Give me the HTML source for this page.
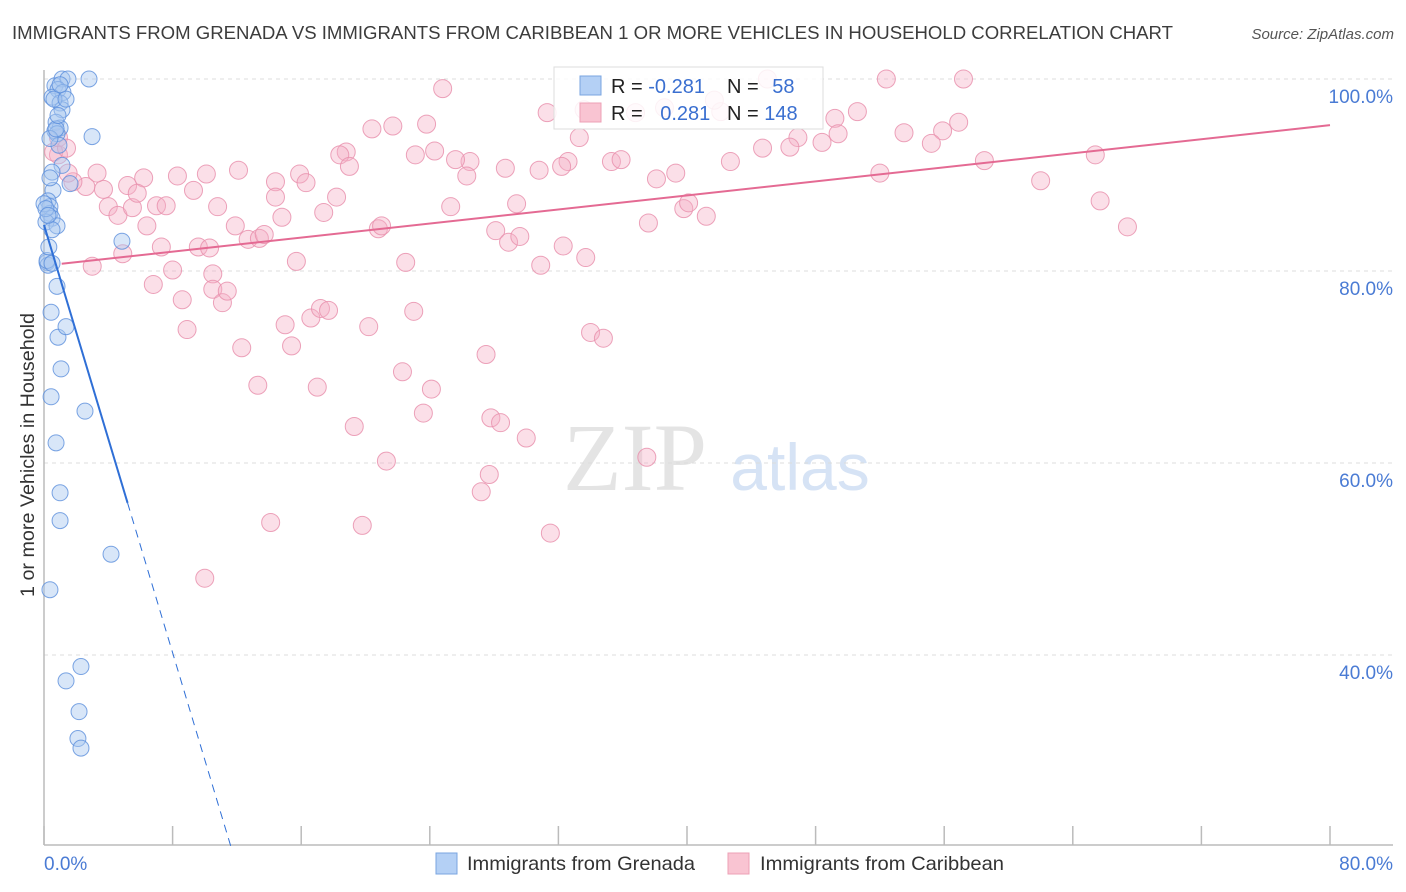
<!DOCTYPE html>
<html><head><meta charset="utf-8"><style>
body{margin:0;background:#fff;font-family:"Liberation Sans",sans-serif;}
svg{display:block}
</style></head><body>
<svg id="chart" width="1406" height="892" xmlns="http://www.w3.org/2000/svg">
<text x="12" y="39" font-size="18" fill="#3c3c3c" textLength="1161" lengthAdjust="spacingAndGlyphs">IMMIGRANTS FROM GRENADA VS IMMIGRANTS FROM CARIBBEAN 1 OR MORE VEHICLES IN HOUSEHOLD CORRELATION CHART</text>
<text x="1394" y="39" font-size="15" fill="#555" font-style="italic" text-anchor="end">Source: ZipAtlas.com</text>
<text transform="translate(34,455) rotate(-90)" font-size="19" fill="#333" text-anchor="middle" textLength="284" lengthAdjust="spacingAndGlyphs">1 or more Vehicles in Household</text>
<g>
<text x="635" y="490" font-size="96" fill="#e4e4e4" font-family="Liberation Serif,serif" text-anchor="middle">ZIP</text>
<text x="800" y="490" font-size="66" fill="#d6e3f5" text-anchor="middle">atlas</text>
</g>
<g id="grid"></g><g id="axes"></g><g id="pink"></g><g id="blue"></g><g id="trend"></g>
<g>
<rect x="554" y="67" width="269" height="62" fill="#fff" fill-opacity="0.85" stroke="#ddd"/>
<rect x="580" y="76" width="21" height="19" fill="#b4d0f5" stroke="#7aa5e0"/>
<rect x="580" y="103" width="21" height="19" fill="#f9c4d2" stroke="#eda0b6"/>
<text x="611" y="93" font-size="20" fill="#222">R = <tspan fill="#3a6fd0">-0.281</tspan></text>
<text x="727" y="93" font-size="20" fill="#222">N = <tspan fill="#3a6fd0" dx="8">58</tspan></text>
<text x="611" y="120" font-size="20" fill="#222">R = <tspan fill="#3a6fd0" dx="12">0.281</tspan></text>
<text x="727" y="120" font-size="20" fill="#222">N = <tspan fill="#3a6fd0">148</tspan></text>
</g>
<g>
<rect x="436" y="853" width="21" height="21" fill="#b4d0f5" stroke="#7aa5e0"/>
<text x="467" y="870" font-size="19.5" fill="#333" textLength="228" lengthAdjust="spacingAndGlyphs">Immigrants from Grenada</text>
<rect x="728" y="853" width="21" height="21" fill="#f9c4d2" stroke="#eda0b6"/>
<text x="760" y="870" font-size="19.5" fill="#333" textLength="244" lengthAdjust="spacingAndGlyphs">Immigrants from Caribbean</text>
</g>
</svg>
<script>
const blueX=[0.68,1.12,1.49,2.80,0.87,1.18,0.50,1.00,1.12,0.75,1.00,0.68,0.81,2.99,0.93,1.12,0.50,1.62,0.56,0.25,0.37,0.37,0.50,0.12,0.81,0.50,4.85,0.19,0.25,0.81,0.44,0.87,1.37,1.06,0.44,2.55,0.75,1.00,1.00,4.17,0.37,2.30,1.37,2.18,2.11,2.30,0.0,0.12,0.25,0.37,0.75,0.62,0.87,0.37,0.19,1.37,1.00,0.5,0.3];
const blueY=[99.3,100,100,100,98.9,98.6,98.1,97.5,96.8,95.5,94.9,94.6,94.3,94.0,93.1,91.0,90.3,89.1,88.4,87.3,86.7,86.0,85.5,85.1,84.7,84.3,83.1,80.9,80.6,78.4,75.7,73.1,74.2,69.8,66.9,65.4,62.1,56.9,54.0,50.5,46.8,38.8,37.3,34.1,31.3,30.3,87.0,86.5,85.8,93.8,94.8,97.9,96.2,89.7,81.1,97.9,99.4,80.8,82.5];
const pinkX=[24.8,52.4,57.2,45.0,31.3,33.3,36.8,50.6,49.2,42.1,56.9,55.9,55.2,53.5,49.4,48.4,46.9,44.7,42.7,35.3,35.9,32.6,32.2,28.7,26.5,25.6,24.3,23.1,23.8,21.7,20.4,18.8,18.4,19.0,15.9,16.3,14.4,14.4,12.1,10.1,8.3,9.3,6.2,5.2,3.7,2.6,1.8,1.5,0.9,0.6,0.9,3.3,4.0,4.6,5.5,5.8,6.4,7.0,7.6,7.3,8.0,9.6,10.5,10.8,11.9,12.7,13.4,13.7,14.8,15.7,17.4,18.2,20.8,21.0,22.5,25.3,26.3,28.1,28.9,29.4,29.6,30.9,32.3,33.7,30.8,37.6,38.1,39.3,39.8,40.1,41.2,46.4,52.0,58.5,62.0,65.7,67.4,65.4,3.0,4.9,6.8,8.6,8.9,10.5,11.1,11.4,12.3,13.3,14.1,10.0,15.0,15.4,16.6,17.0,17.2,17.7,19.3,20.2,21.3,19.8,22.3,23.0,23.6,24.1,27.5,27.8,28.4,27.7,27.2,30.0,31.5,34.0,34.8,37.5,10.3,1.4,33.6,38.6,41.7];
const pinkY=[99.0,100,100,100,96.5,93.9,96.5,96.6,95.9,96.6,95.5,94.6,93.3,94.4,94.3,93.4,93.9,92.8,91.4,91.4,91.6,91.4,90.9,90.7,91.4,91.6,92.5,92.1,95.3,95.1,94.8,92.4,92.1,90.9,90.1,89.2,89.3,87.7,90.5,90.1,89.9,88.4,89.7,88.9,88.5,88.8,89.3,90.2,92.1,92.4,93.9,90.2,86.7,85.8,86.6,88.1,84.7,86.8,86.8,82.5,80.1,82.5,79.7,86.7,84.7,83.3,83.4,83.8,85.6,81.0,86.1,87.7,84.4,84.7,80.9,86.7,89.9,84.2,83.0,87.0,83.6,80.6,82.6,81.4,90.5,85.0,89.6,90.2,86.5,87.1,85.7,92.9,90.2,91.5,89.4,87.3,84.6,92.1,80.5,81.8,78.6,77.0,73.9,78.1,76.7,77.9,72.0,68.1,53.8,48.0,74.4,72.2,75.1,67.9,76.1,75.9,63.8,74.2,60.2,53.5,69.5,75.8,65.2,67.7,71.3,64.7,64.2,58.8,57.0,62.6,52.7,73.6,73.0,60.6,82.4,92.8,96.8,97.0,97.8];
const blueTrend=[84.8,-5.57];   // intercept, slope
const pinkTrend=[80.55,0.183];
const yTicks=[100,80,60,40];
const xTickVals=[0,8,16,24,32,40,48,56,64,72,80];

const NS='http://www.w3.org/2000/svg';
const X0=44,X1=1330,YT=79,YB=845;
const sx=v=>X0+(v/80)*(X1-X0);
const sy=v=>YT+(100-v)/20*192;
function mk(tag,attrs,parent){const e=document.createElementNS(NS,tag);for(const k in attrs)e.setAttribute(k,attrs[k]);document.getElementById(parent).appendChild(e);return e;}

yTicks.forEach(t=>{
  const l=mk('line',{x1:X0,x2:1393,y1:sy(t),y2:sy(t),stroke:'#dcdcdc','stroke-dasharray':'4,4'},'grid');
  
  
  const tx=mk('text',{x:1393,y:sy(t)+24,'font-size':19,fill:'#4a7bd4','text-anchor':'end'},'grid');
  tx.textContent=t.toFixed(1)+'%';
  
  
});
const ya=mk('line',{x1:X0,x2:X0,y1:70,y2:YB,stroke:'#bbb','stroke-width':1.5},'axes');


const xa=mk('line',{x1:X0,x2:1393,y1:YB,y2:YB,stroke:'#bbb','stroke-width':1.5},'axes');


xTickVals.forEach(t=>{
  const l=mk('line',{x1:sx(t),x2:sx(t),y1:826,y2:YB,stroke:'#bbb','stroke-width':1.5},'axes');
  
  
});
const xl0=mk('text',{x:X0,y:870,'font-size':19,fill:'#4a7bd4'},'axes');xl0.textContent='0.0%';


const xl1=mk('text',{x:1393,y:870,'font-size':19,fill:'#4a7bd4','text-anchor':'end'},'axes');xl1.textContent='80.0%';



pinkX.forEach((v,i)=>{
  const c=mk('circle',{cx:sx(v),cy:sy(pinkY[i]),r:9,fill:'#f5b0c5','fill-opacity':0.4,stroke:'#e992ae','stroke-opacity':0.85,'stroke-width':1},'pink');
  
  
});
blueX.forEach((v,i)=>{
  const c=mk('circle',{cx:sx(v),cy:sy(blueY[i]),r:8,fill:'#a9c8f0','fill-opacity':0.45,stroke:'#5b8fdc','stroke-opacity':0.8,'stroke-width':1},'blue');
  
  
});
const bf=x=>blueTrend[0]+blueTrend[1]*x, pf=x=>pinkTrend[0]+pinkTrend[1]*x;
const bs=mk('line',{x1:sx(0),y1:sy(bf(0)),x2:sx(5.2),y2:sy(bf(5.2)),stroke:'#2f6fd6','stroke-width':2},'trend');


const xEnd=(20-blueTrend[0])/blueTrend[1];
const bd=mk('line',{x1:sx(5.2),y1:sy(bf(5.2)),x2:sx(xEnd),y2:sy(20),stroke:'#2f6fd6','stroke-width':1,'stroke-dasharray':'8,6'},'trend');


const pl=mk('line',{x1:sx(1.1),y1:sy(pf(1.1)),x2:sx(80),y2:sy(pf(80)),stroke:'#e46a93','stroke-width':2},'trend');


</script>
</body></html>
